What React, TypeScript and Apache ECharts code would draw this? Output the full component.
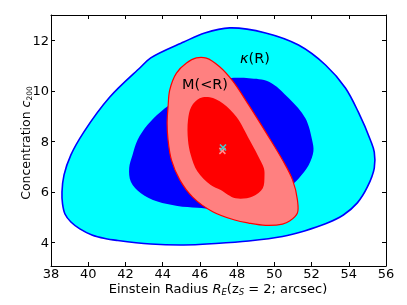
import React, { useEffect, useRef } from 'react';
import * as echarts from 'echarts';

const xTicks = [38, 40, 42, 44, 46, 48, 50, 52, 54, 56];
const yTicks = [4, 6, 8, 10, 12];

// kappa(R) outer (95%) contour
const kappaOuter: [number, number][] = [
  [47.6, 12.49], [49.53, 12.29], [51.3, 11.81], [52.75, 11.02], [53.82, 10.11],
  [54.51, 9.16], [55.16, 8.05], [55.37, 7.57], [55.37, 6.94], [55.0, 6.19],
  [54.46, 5.56], [53.71, 5.08], [52.75, 4.73], [51.62, 4.45], [50.44, 4.23],
  [48.62, 4.05], [46.85, 3.95], [45.13, 3.89], [43.36, 3.93], [41.59, 4.07],
  [40.9, 4.15], [40.2, 4.29], [39.55, 4.53], [39.07, 4.8], [38.75, 5.12],
  [38.62, 5.52], [38.59, 5.99], [38.7, 6.67], [39.07, 7.46], [39.77, 8.37],
  [41.16, 9.75], [42.77, 10.9], [43.36, 11.3], [45.13, 11.93], [46.26, 12.29],
];
// kappa(R) inner (68%) contour
const kappaInner: [number, number][] = [
  [47.56, 10.5], [48.63, 10.5], [49.71, 10.36], [50.78, 9.7], [51.67, 8.91],
  [52.03, 8.05], [52.1, 7.6], [51.85, 7.06], [51.31, 6.53], [50.82, 6.2],
  [49.74, 5.75], [48.13, 5.44], [46.85, 5.33], [45.87, 5.37], [44.79, 5.44],
  [43.72, 5.61], [42.83, 5.94], [42.29, 6.4], [42.2, 6.94], [42.38, 7.46],
  [42.65, 8.05], [43.19, 8.65], [43.9, 9.17], [44.75, 9.62], [45.72, 10.08],
  [46.6, 10.38],
];
// M(<R) outer (95%) contour
const massOuter: [number, number][] = [
  [45.81, 11.3], [46.35, 11.29], [47.06, 10.95], [47.76, 10.39], [48.62, 9.44],
  [49.53, 8.37], [50.44, 7.26], [50.98, 6.47], [51.24, 5.68], [51.24, 5.16],
  [50.82, 4.84], [50.44, 4.72], [49.53, 4.67], [48.62, 4.76], [47.87, 4.88],
  [46.69, 5.21], [45.61, 5.79], [44.92, 6.47], [44.47, 7.26], [44.29, 8.05],
  [44.24, 8.72], [44.29, 9.36], [44.38, 10.03], [44.74, 10.7], [45.28, 11.1],
];
// M(<R) inner (68%) contour
const massInner: [number, number][] = [
  [45.99, 9.7], [46.53, 9.74], [47.24, 9.5], [47.96, 8.97], [48.67, 8.05],
  [49.1, 7.46], [49.44, 6.93], [49.47, 6.59], [49.38, 6.14], [48.83, 5.81],
  [47.92, 5.74], [47.12, 6.07], [46.58, 6.27], [45.87, 6.8], [45.51, 7.46],
  [45.36, 8.05], [45.36, 8.84], [45.54, 9.37],
];
// best-fit markers
const bestKappa: [number, number][] = [[47.24, 7.75]];
const bestMass: [number, number][] = [[47.21, 7.62]];

// closed centripetal Catmull-Rom curve through pixel points, as SVG path data
function closedCurve(p: number[][]): string {
  const n = p.length;
  const f = (v: number) => v.toFixed(2);
  const dist = (a: number[], b: number[]) => Math.max(1e-6, Math.sqrt(Math.hypot(a[0] - b[0], a[1] - b[1])));
  let d = `M${f(p[0][0])} ${f(p[0][1])}`;
  for (let i = 0; i < n; i++) {
    const p0 = p[(i - 1 + n) % n];
    const p1 = p[i];
    const p2 = p[(i + 1) % n];
    const p3 = p[(i + 2) % n];
    const l1 = dist(p0, p1);
    const l2 = dist(p1, p2);
    const l3 = dist(p2, p3);
    const b1 = [0, 1].map(
      (k) => (l1 * l1 * p2[k] - l2 * l2 * p0[k] + (2 * l1 * l1 + 3 * l1 * l2 + l2 * l2) * p1[k]) / (3 * l1 * (l1 + l2))
    );
    const b2 = [0, 1].map(
      (k) => (l3 * l3 * p1[k] - l2 * l2 * p3[k] + (2 * l3 * l3 + 3 * l3 * l2 + l2 * l2) * p2[k]) / (3 * l3 * (l3 + l2))
    );
    d += ` C${f(b1[0])} ${f(b1[1])} ${f(b2[0])} ${f(b2[1])} ${f(p2[0])} ${f(p2[1])}`;
  }
  return d + ' Z';
}

export default function App() {
  const ref = useRef<HTMLDivElement>(null);
  useEffect(() => {
    const chart = echarts.init(ref.current!, null, { renderer: 'svg' });
    const region = (pts: [number, number][], fill: string, stroke: string | null, lw: number, z: number) => ({
      type: 'custom',
      coordinateSystem: 'cartesian2d',
      data: [pts[0]],
      z,
      silent: true,
      clip: true,
      renderItem: (_p: any, api: any) => ({
        type: 'path',
        shape: { pathData: closedCurve(pts.map((p) => api.coord(p))) },
        style: { fill, stroke: stroke || 'none', lineWidth: lw },
      }),
    });
    const cross = (pts: [number, number][], color: string, z: number) => ({
      type: 'custom',
      coordinateSystem: 'cartesian2d',
      data: pts,
      z,
      silent: true,
      renderItem: (_p: any, api: any) => {
        const c = api.coord([api.value(0), api.value(1)]);
        const s = 3;
        return {
          type: 'group',
          children: [
            { type: 'line', shape: { x1: c[0] - s, y1: c[1] - s, x2: c[0] + s, y2: c[1] + s }, style: { stroke: color, lineWidth: 1.5 } },
            { type: 'line', shape: { x1: c[0] - s, y1: c[1] + s, x2: c[0] + s, y2: c[1] - s }, style: { stroke: color, lineWidth: 1.5 } },
          ],
        };
      },
    });
    const font = 'DejaVu Sans';
    const line = { show: true, lineStyle: { color: '#000', width: 1 } };
    const tick = { show: true, inside: true, length: 4, lineStyle: { color: '#000' } };
    chart.setOption({
      animation: false,
      textStyle: { fontFamily: font },
      grid: { left: 51, right: 21, top: 15, bottom: 39 },
      xAxis: [
        {
          type: 'value', min: 38, max: 56, interval: 2, position: 'bottom',
          axisLine: line, splitLine: { show: false },
          axisLabel: { color: '#000', fontSize: 13, fontFamily: font, margin: 1, customValues: xTicks },
          axisTick: { ...tick, customValues: xTicks },
        },
        {
          type: 'value', min: 38, max: 56, interval: 2, position: 'top',
          axisLine: line, splitLine: { show: false },
          axisLabel: { show: false },
          axisTick: { ...tick, customValues: xTicks },
        },
      ],
      yAxis: [
        {
          type: 'value', min: 3.06, max: 13, position: 'left',
          axisLine: line, splitLine: { show: false },
          axisLabel: { color: '#000', fontSize: 13, fontFamily: font, margin: 2, customValues: yTicks },
          axisTick: { ...tick, customValues: yTicks },
        },
        {
          type: 'value', min: 3.06, max: 13, position: 'right',
          axisLine: line, splitLine: { show: false },
          axisLabel: { show: false },
          axisTick: { ...tick, customValues: yTicks },
        },
      ],
      series: [
        region(kappaOuter, '#00FFFF', '#0000FF', 1.6, 1),
        region(kappaInner, '#0000FF', null, 0, 2),
        region(massOuter, '#FF8080', '#FF0000', 1.2, 3),
        region(massInner, '#FF0000', null, 0, 4),
        cross(bestMass, '#FF9090', 5),
        cross(bestKappa, '#40D0D0', 6),
      ],
      graphic: [
        {
          type: 'text', x: 218, y: 288,
          style: {
            text: 'Einstein Radius {i|R}{s|E}(z{s|S} = 2; arcsec)',
            fontFamily: font, fontSize: 13, lineHeight: 16, fill: '#000', align: 'center', verticalAlign: 'middle',
            rich: {
              i: { fontStyle: 'italic', fontFamily: font, fontSize: 13, lineHeight: 16 },
              s: { fontStyle: 'italic', fontFamily: font, fontSize: 8.5, lineHeight: 9, verticalAlign: 'bottom' },
            },
          },
        },
        {
          type: 'text', x: 25, y: 143, rotation: Math.PI / 2,
          style: {
            text: 'Concentration {i|c}{s|200}',
            fontFamily: font, fontSize: 12.5, lineHeight: 16, fill: '#000', align: 'center', verticalAlign: 'middle',
            rich: {
              i: { fontStyle: 'italic', fontFamily: font, fontSize: 12.5, lineHeight: 16 },
              s: { fontFamily: font, fontSize: 7.5, lineHeight: 8, verticalAlign: 'bottom' },
            },
          },
        },
        {
          type: 'text', x: 255, y: 57.5, z: 100,
          style: {
            text: '{k|κ}(R)', fontFamily: font, fontSize: 14.5, fill: '#000', align: 'center', verticalAlign: 'middle',
            rich: { k: { fontStyle: 'italic', fontFamily: font, fontSize: 14.5 } },
          },
        },
        {
          type: 'text', x: 205, y: 83.5, z: 100,
          style: { text: 'M(<R)', fontFamily: font, fontSize: 14.5, fill: '#000', align: 'center', verticalAlign: 'middle' },
        },
      ],
    });
    return () => chart.dispose();
  }, []);
  return <div ref={ref} style={{ position: 'fixed', left: 0, top: 0, width: 407, height: 305 }} />;
}
